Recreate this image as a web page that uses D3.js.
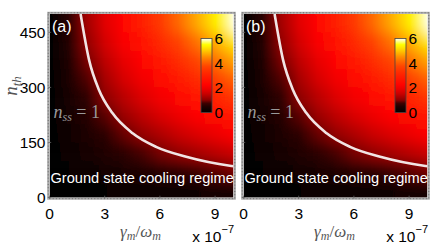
<!DOCTYPE html>
<html>
<head>
<meta charset="utf-8">
<script src="https://cdn.jsdelivr.net/npm/d3@7"></script>
<style>
  body { margin: 0; background: #fff; }
  svg { display: block; }
</style>
</head>
<body>
<script>
// heat map values n_ss, one row per n_th band
const gammaCols = [0, 1, 2, 3, 4, 5, 6, 7, 8, 9, 10];
const nthRows = [25, 75, 125, 175, 225, 275, 325, 375, 425, 475];
const nssA = [
  [0, 0.03, 0.06, 0.09, 0.13, 0.16, 0.19, 0.22, 0.25, 0.28, 0.31],
  [0, 0.09, 0.19, 0.28, 0.38, 0.47, 0.56, 0.66, 0.75, 0.84, 0.94],
  [0, 0.16, 0.31, 0.47, 0.63, 0.78, 0.94, 1.09, 1.25, 1.41, 1.56],
  [0, 0.22, 0.44, 0.66, 0.88, 1.09, 1.31, 1.53, 1.75, 1.97, 2.19],
  [0, 0.28, 0.56, 0.84, 1.13, 1.41, 1.69, 1.97, 2.25, 2.53, 2.81],
  [0, 0.34, 0.69, 1.03, 1.38, 1.72, 2.06, 2.41, 2.75, 3.09, 3.44],
  [0, 0.41, 0.81, 1.22, 1.63, 2.03, 2.44, 2.84, 3.25, 3.66, 4.06],
  [0, 0.47, 0.94, 1.41, 1.88, 2.34, 2.81, 3.28, 3.75, 4.22, 4.69],
  [0, 0.53, 1.06, 1.59, 2.13, 2.66, 3.19, 3.72, 4.25, 4.78, 5.31],
  [0, 0.59, 1.19, 1.78, 2.38, 2.97, 3.56, 4.16, 4.75, 5.34, 5.94]
];
const nssB = [
  [0, 0.03, 0.06, 0.09, 0.13, 0.16, 0.19, 0.22, 0.25, 0.28, 0.31],
  [0, 0.09, 0.19, 0.28, 0.38, 0.47, 0.56, 0.66, 0.75, 0.84, 0.94],
  [0, 0.16, 0.31, 0.47, 0.63, 0.78, 0.94, 1.09, 1.25, 1.41, 1.56],
  [0, 0.22, 0.44, 0.66, 0.88, 1.09, 1.31, 1.53, 1.75, 1.97, 2.19],
  [0, 0.28, 0.56, 0.84, 1.13, 1.41, 1.69, 1.97, 2.25, 2.53, 2.81],
  [0, 0.34, 0.69, 1.03, 1.38, 1.72, 2.06, 2.41, 2.75, 3.09, 3.44],
  [0, 0.41, 0.81, 1.22, 1.63, 2.03, 2.44, 2.84, 3.25, 3.66, 4.06],
  [0, 0.47, 0.94, 1.41, 1.88, 2.34, 2.81, 3.28, 3.75, 4.22, 4.69],
  [0, 0.53, 1.06, 1.59, 2.13, 2.66, 3.19, 3.72, 4.25, 4.78, 5.31],
  [0, 0.59, 1.19, 1.78, 2.38, 2.97, 3.56, 4.16, 4.75, 5.34, 5.94]
];

// the n_ss = 1 contour
const curveGamma = [1.69, 2.15, 2.69, 3.42, 4.52, 5.79, 7.43, 9.89, 10.2];
const curveNth = [500, 375, 293, 230, 175, 138, 111, 86, 84];

const xTicks = [0, 3, 6, 9];
const yTicks = [0, 150, 300, 450];
const cbTicks = [0, 2, 4, 6];

const main = () => {
  const svg = d3.select("body").append("svg")
    .attr("width", 436)
    .attr("height", 243)
    .style("font-family", "'Liberation Sans', Arial, sans-serif");

  const defs = svg.append("defs");
  defs.append("filter")
    .attr("id", "vblur")
    .attr("filterUnits", "userSpaceOnUse")
    .attr("x", 0).attr("y", -100).attr("width", 436).attr("height", 450)
    .append("feGaussianBlur").attr("stdDeviation", "0 7");

  const color = d3.scaleLinear()
    .domain([0, 0.7, 1.0, 1.6, 2.2, 3.0, 3.7, 4.4, 5.0, 5.5, 6])
    .range(["#000000", "#300000", "#8a0000", "#d40000", "#ff0000", "#ff2000",
            "#ff4000", "#ff8000", "#ffc800", "#ffff00", "#ffffff"])
    .clamp(true);

  const panels = [
    { label: "(a)", data: nssA, dx: 0 },
    { label: "(b)", data: nssB, dx: 194 }
  ];

  panels.forEach((p, pi) => {
    const x = d3.scaleLinear().domain([0, 10]).range([49.5 + p.dx, 233.5 + p.dx]);
    const y = d3.scaleLinear().domain([0, 500]).range([197.5, 14]);

    defs.append("clipPath").attr("id", "clip" + pi)
      .append("rect")
      .attr("x", x(0)).attr("y", y(500))
      .attr("width", x(10) - x(0)).attr("height", y(0) - y(500));

    // one gradient per n_th band
    p.data.forEach((row, i) => {
      const g = defs.append("linearGradient")
        .attr("id", `g${pi}_${i}`)
        .attr("gradientUnits", "userSpaceOnUse")
        .attr("x1", x(0)).attr("x2", x(10))
        .attr("y1", 0).attr("y2", 0);
      row.forEach((v, j) => {
        g.append("stop")
          .attr("offset", gammaCols[j] / 10)
          .attr("stop-color", color(v));
      });
    });

    const heat = svg.append("g")
      .attr("clip-path", `url(#clip${pi})`)
      .append("g")
      .attr("filter", "url(#vblur)");

    heat.selectAll("rect")
      .data(nthRows)
      .enter()
      .append("rect")
      .attr("x", x(0))
      .attr("width", x(10) - x(0))
      .attr("y", (d, i) => i === nthRows.length - 1 ? y(d + 125) : y(d + 25) - 0.5)
      .attr("height", (d, i) => {
        const top = i === nthRows.length - 1 ? y(d + 125) : y(d + 25) - 0.5;
        const bot = i === 0 ? y(d - 125) : y(d - 25);
        return bot - top;
      })
      .attr("fill", (d, i) => `url(#g${pi}_${i})`);

    // contour n_ss = 1
    const line = d3.line()
      .x(d => x(d[0]))
      .y(d => y(d[1]))
      .curve(d3.curveMonotoneX);
    svg.append("g")
      .attr("clip-path", `url(#clip${pi})`)
      .append("path")
      .attr("d", line(d3.zip(curveGamma, curveNth)))
      .attr("fill", "none")
      .attr("stroke", "#f2e4e4")
      .attr("stroke-width", 2.6);

    // frame
    const fx = x(0) - 1.3, fy = y(500) - 1.2;
    const fw = x(10) - x(0) + 2.6, fh = y(0) - y(500) + 2.4;
    svg.append("rect")
      .attr("x", fx).attr("y", fy).attr("width", fw).attr("height", fh)
      .attr("fill", "none").attr("stroke", "#a8a8a8").attr("stroke-width", 2);
    svg.append("rect")
      .attr("x", fx).attr("y", fy).attr("width", fw).attr("height", fh)
      .attr("fill", "none").attr("stroke", "#555").attr("stroke-width", 0.7)
      .attr("stroke-dasharray", "1,2.2");

    // tick marks inside frame
    svg.append("g").selectAll("line").data(xTicks).enter().append("line")
      .attr("x1", d => x(d)).attr("x2", d => x(d))
      .attr("y1", fy + fh).attr("y2", fy + fh - 3)
      .attr("stroke", "#666").attr("stroke-width", 0.8);
    svg.append("g").selectAll("line").data(yTicks).enter().append("line")
      .attr("x1", fx).attr("x2", fx + 3)
      .attr("y1", d => y(d)).attr("y2", d => y(d))
      .attr("stroke", "#666").attr("stroke-width", 0.8);

    // x tick labels
    svg.append("g").selectAll("text").data(xTicks).enter().append("text")
      .attr("x", d => x(d)).attr("y", 218.5)
      .attr("text-anchor", "middle")
      .attr("font-size", 15.5)
      .text(d => d);

    // y tick labels only on panel (a)
    if (pi === 0) {
      svg.append("g").selectAll("text").data(yTicks).enter().append("text")
        .attr("x", 45.5).attr("y", d => y(d) + 5.5)
        .attr("text-anchor", "end")
        .attr("font-size", 15.5)
        .text(d => d);

      const yl = svg.append("text")
        .attr("transform", "translate(17,86) rotate(-90)")
        .attr("text-anchor", "middle")
        .attr("font-family", "'Liberation Serif', 'DejaVu Serif', serif")
        .attr("font-style", "italic")
        .attr("fill", "#555");
      yl.append("tspan").attr("font-size", 19).text("n");
      yl.append("tspan").attr("font-size", 13).attr("dy", 4).text("th");
    }

    // x axis label
    const xl = svg.append("text")
      .attr("x", (x(0) + x(10)) / 2 - 1).attr("y", 237)
      .attr("text-anchor", "middle")
      .attr("font-family", "'Liberation Serif', 'DejaVu Serif', serif")
      .attr("font-style", "italic")
      .attr("fill", "#555");
    xl.append("tspan").attr("font-size", 17).text("γ");
    xl.append("tspan").attr("font-size", 12).attr("dy", 3).text("m");
    xl.append("tspan").attr("font-size", 17).attr("dy", -3).attr("font-style", "normal").text("/");
    xl.append("tspan").attr("font-size", 17).text("ω");
    xl.append("tspan").attr("font-size", 12).attr("dy", 3).text("m");

    // exponent note
    const ex = svg.append("text")
      .attr("x", x(10) + 0.5).attr("y", 241.5)
      .attr("text-anchor", "end")
      .attr("font-size", 15.5);
    ex.append("tspan").text("x 10");
    ex.append("tspan").attr("font-size", 11).attr("dy", -9).text("\u22127");

    // panel label
    svg.append("text")
      .attr("x", x(0) + 2.5).attr("y", 32)
      .attr("font-size", 16)
      .attr("fill", "#fff")
      .text(p.label);

    // n_ss = 1 text
    const nt = svg.append("text")
      .attr("x", x(0) + 4).attr("y", 118)
      .attr("font-family", "'Liberation Serif', 'DejaVu Serif', serif")
      .attr("fill", "#9a9a9a");
    nt.append("tspan").attr("font-size", 18).attr("font-style", "italic").text("n");
    nt.append("tspan").attr("font-size", 12).attr("font-style", "italic").attr("dy", 3).text("ss");
    nt.append("tspan").attr("font-size", 18).attr("dy", -3).text(" = 1");

    svg.append("text")
      .attr("x", x(0) + 1).attr("y", 183)
      .attr("font-size", 14.6)
      .attr("fill", "#fff")
      .text("Ground state cooling regime");

    // colour bar
    const cb = d3.scaleLinear().domain([0, 6]).range([112.5, 38.5]);
    const cg = defs.append("linearGradient")
      .attr("id", "cb" + pi)
      .attr("x1", 0).attr("x2", 0).attr("y1", 1).attr("y2", 0);
    d3.range(0, 6.01, 0.25).forEach(v => {
      cg.append("stop").attr("offset", v / 6).attr("stop-color", color(v));
    });
    const cbx = 201 + p.dx;
    svg.append("rect")
      .attr("x", cbx).attr("y", cb(6))
      .attr("width", 11).attr("height", cb(0) - cb(6))
      .attr("fill", `url(#cb${pi})`)
      .attr("stroke", "#444").attr("stroke-width", 0.8);
    svg.append("g").selectAll("text").data(cbTicks).enter().append("text")
      .attr("x", cbx + 13.5).attr("y", d => cb(d) + 5.5)
      .attr("font-size", 15.5)
      .text(d => d);
  });
};

window.onload = main;
</script>
</body>
</html>
